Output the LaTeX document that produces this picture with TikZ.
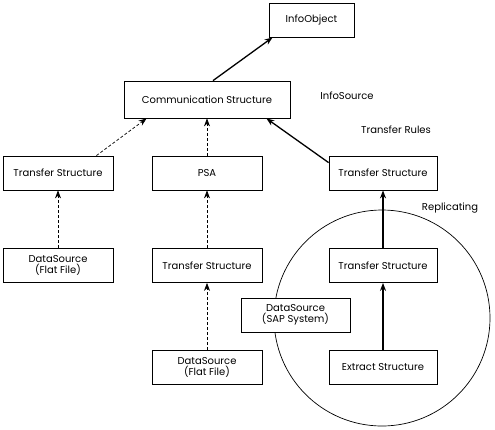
\documentclass[tikz,border=0pt]{standalone}
\usepackage{fontspec}
\setmainfont{Poppins}
\usepackage{tikz}
\usetikzlibrary{arrows.meta,positioning}
\tikzset{
  >=Stealth,
  font=\fontsize{10}{11.5}\selectfont,
  box/.style={draw=black,line width=0.8pt,fill=white,align=center,
              inner sep=2pt,minimum width=110pt,minimum height=34pt},
  flow/.style={-{Stealth[length=8pt,width=6pt]},line width=1.3pt,draw=black},
  dep/.style={-{Stealth[length=8pt,width=6pt]},line width=0.7pt,draw=black,
              dash pattern=on 3pt off 2pt},
  tag/.style={inner sep=0pt},
}
\begin{document}
\begin{tikzpicture}[x=1pt,y=-1pt]
  \useasboundingbox (0,0) rectangle (495,429);
  % replicating area
  \node[circle,draw,line width=0.7pt,minimum size=216pt,inner sep=0pt] (repl) at (382,318) {};
  % boxes
  \node[box,minimum width=85pt] (io) at (311.5,20) {InfoObject};
  \node[box,minimum width=166pt,minimum height=37pt] (comm) at (207,99.5) {Communication Structure};
  \node[box] (tsl) at (58,173) {Transfer Structure};
  \node[box] (psa) at (207,173) {PSA};
  \node[box,minimum width=108pt] (tsr) at (383,173) {Transfer Structure};
  \node[box] (dsl) at (58,265.5) {DataSource\\(Flat File)};
  \node[box] (tsm) at (207,265.5) {Transfer Structure};
  \node[box,minimum width=109pt] (dsap) at (295.5,315) {DataSource\\(SAP System)};
  \node[box] (dsm) at (207,367.5) {DataSource\\(Flat File)};
  \node[box,minimum width=108pt] (tsx) at (383,265.5) {Transfer Structure};
  \node[box,minimum width=108pt] (ext) at (383,367.5) {Extract Structure};
  % labels
  \node[tag] (isrc) at (347,96) {InfoSource};
  \node[tag] (trule) at (396,130) {Transfer Rules};
  \node[tag] (rtag) at (450,208) {Replicating};
  % connectors
  \draw[flow] ([xshift=6pt]comm.north) -- ([xshift=4pt]io.south west);
  \draw[dep] ([xshift=-17pt]tsl.north east) -- ([xshift=23pt]comm.south west);
  \draw[dep] (psa) -- (comm);
  \draw[flow] ([yshift=-7pt]tsr.north west) -- ([xshift=-24pt]comm.south east);
  \draw[dep] (dsl) -- (tsl);
  \draw[dep] (tsm) -- (psa);
  \draw[dep] (dsm) -- (tsm);
  \draw[flow] (tsx) -- (tsr);
  \draw[flow] (ext) -- (tsx);
\end{tikzpicture}
\end{document}
